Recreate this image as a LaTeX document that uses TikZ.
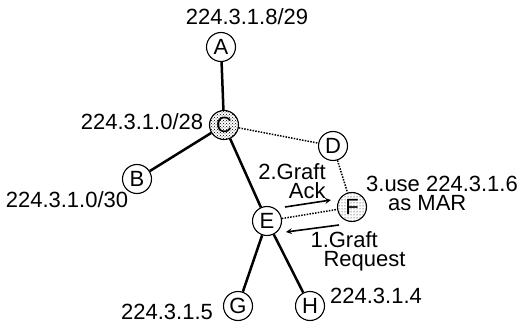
\documentclass[tikz,border=0pt]{standalone}
\usepackage{fontspec}
\setmainfont{Liberation Sans}
\usetikzlibrary{shapes, arrows, patterns, positioning}

\begin{document}
\begin{tikzpicture}[x=1pt, y=-1pt, font=\fontsize{22}{19}\selectfont]
    \tikzstyle{router} = [circle, draw, line width=1.1pt, minimum size=29pt, inner sep=0pt]
    \tikzstyle{core} = [router, fill=black!20, pattern=crosshatch dots]
    \tikzstyle{mar} = [router, fill=black!8, pattern=dots]
    \tikzstyle{link} = [line width=2.5pt]
    \tikzstyle{tunnel} = [line width=1.5pt, dash pattern=on 1.5pt off 1.3pt]
    \tikzstyle{msg} = [line width=1.6pt, ->, >=stealth]
    \useasboundingbox (0,0) rectangle (517,326);

    \node (A) [router] at (221,47) {A};
    \node (C) [core] at (224,125) {C};
    \node (B) [router] at (137,179) {B};
    \node (D) [router] at (333,146) {D};
    \node (E) [router] at (267,221) {E};
    \node (F) [mar] at (352,207) {F};
    \node (G) [router] at (238,306) {G};
    \node (H) [router] at (310,306) {H};

    % Addresses
    \node (ipA) at (247,17) {224.3.1.8/29};
    \node (ipC) at (142,122) {224.3.1.0/28};
    \node (ipB) at (67,200) {224.3.1.0/30};
    \node (ipG) at (167,312) {224.3.1.5};
    \node (ipH) at (376,296) {224.3.1.4};

    % Tree
    \draw [link] (A) -- (C);
    \draw [link] (C) -- (B);
    \draw [link] (C) -- (E);
    \draw [link] (E) -- (G);
    \draw [link] (E) -- (H);
    \draw [tunnel] (C) -- (D);
    \draw [tunnel] (D) -- (F);
    \draw [tunnel] (E) -- (F);

    % Messages
    \coordinate (reqS) at (339,225);
    \coordinate (reqE) at (286,232);
    \coordinate (ackS) at (285,207);
    \coordinate (ackE) at (331,200);
    \draw [msg] (reqS) -- (reqE);
    \draw [msg] (ackS) -- (ackE);
    \node (req) [align=left] at (358,251) {1.Graft\\\hspace*{13pt}Request};
    \node (ack) [align=right] at (292,181) {2.Graft\\Ack};
    \node (use) [align=left] at (442,193) {3.use 224.3.1.6\\\hspace*{22pt}as MAR};
\end{tikzpicture}
\end{document}
